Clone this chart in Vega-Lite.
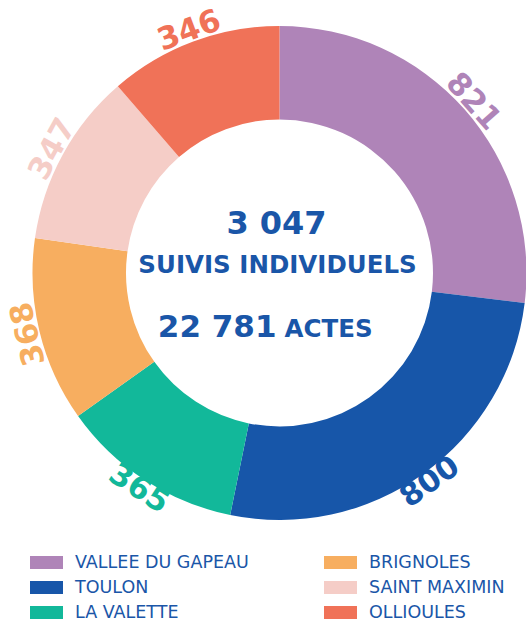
{
  "$schema": "https://vega.github.io/schema/vega-lite/v6.json",
  "width": 493,
  "height": 494,
  "autosize": {"type": "none"},
  "padding": {"left": 33, "top": 26, "right": 0, "bottom": 103},
  "background": "white",
  "config": {"view": {"stroke": null}},
  "datasets": {
    "sites": [
      {"site": "VALLEE DU GAPEAU", "n": 821},
      {"site": "TOULON", "n": 800},
      {"site": "LA VALETTE", "n": 365},
      {"site": "BRIGNOLES", "n": 368},
      {"site": "SAINT MAXIMIN", "n": 347},
      {"site": "OLLIOULES", "n": 346}
    ],
    "center": [
      {"key": "total", "t": "3 047"},
      {"key": "suivis", "t": "SUIVIS INDIVIDUELS"},
      {"key": "actesn", "t": "22 781"},
      {"key": "actes", "t": "ACTES"}
    ]
  },
  "layer": [
    {
      "data": {"name": "sites"},
      "transform": [
        {"window": [{"op": "row_number", "as": "idx"}]}
      ],
      "mark": {"type": "arc", "outerRadius": 247, "innerRadius": 153.5},
      "encoding": {
        "theta": {"field": "n", "type": "quantitative", "stack": true},
        "order": {"field": "idx", "type": "quantitative"},
        "color": {
          "field": "site",
          "type": "nominal",
          "scale": {
            "domain": ["VALLEE DU GAPEAU", "TOULON", "LA VALETTE", "BRIGNOLES", "SAINT MAXIMIN", "OLLIOULES"],
            "range": ["#AF84B8", "#1756A9", "#12B89A", "#F7AE60", "#F5CDC7", "#F07258"]
          },
          "legend": {
            "orient": "none",
            "legendX": -3,
            "legendY": 520,
            "columns": 2,
            "columnPadding": 75,
            "rowPadding": -8,
            "title": null,
            "values": ["VALLEE DU GAPEAU", "TOULON", "LA VALETTE", "BRIGNOLES", "SAINT MAXIMIN", "OLLIOULES"],
            "symbolType": "M-1,-0.4H1V0.4H-1Z",
            "symbolSize": 1089,
            "symbolStrokeWidth": 0,
            "symbolOpacity": 1,
            "labelFont": "DejaVu Sans",
            "labelFontSize": 17.5,
            "labelColor": "#1A56A8",
            "labelOffset": 12,
            "labelLimit": 300
          }
        }
      }
    },
    {
      "data": {"name": "sites"},
      "transform": [
        {"window": [{"op": "row_number", "as": "idx"}]},
        {"joinaggregate": [{"op": "sum", "field": "n", "as": "total"}]},
        {"window": [{"op": "sum", "field": "n", "as": "cum"}], "sort": [{"field": "idx"}], "frame": [null, 0]},
        {"calculate": "(datum.cum - datum.n / 2) / datum.total * 360", "as": "mid"},
        {"calculate": "datum.mid < 90 ? datum.mid : (datum.mid < 240 ? datum.mid - 180 : datum.mid - 360)", "as": "ang"}
      ],
      "mark": {"type": "text", "radius": 258, "font": "DejaVu Sans", "fontWeight": "bold", "fontSize": 31, "baseline": "middle", "align": "center"},
      "encoding": {
        "theta": {"field": "n", "type": "quantitative", "stack": true},
        "order": {"field": "idx", "type": "quantitative"},
        "text": {"field": "n", "type": "quantitative"},
        "angle": {"field": "ang", "type": "quantitative", "scale": null},
        "color": {"field": "site", "type": "nominal", "legend": null}
      }
    },
    {
      "data": {"name": "center"},
      "transform": [{"filter": "datum.key == 'total'"}],
      "mark": {"type": "text", "font": "DejaVu Sans", "fontWeight": "bold", "fontSize": 32, "color": "#1A56A8", "baseline": "alphabetic", "align": "center", "dx": -3, "dy": -39},
      "encoding": {"text": {"field": "t"}}
    },
    {
      "data": {"name": "center"},
      "transform": [{"filter": "datum.key == 'suivis'"}],
      "mark": {"type": "text", "font": "DejaVu Sans", "fontWeight": "bold", "fontSize": 24.5, "color": "#1A56A8", "baseline": "alphabetic", "align": "center", "dx": -2, "dy": 0},
      "encoding": {"text": {"field": "t"}}
    },
    {
      "data": {"name": "center"},
      "transform": [{"filter": "datum.key == 'actesn'"}],
      "mark": {"type": "text", "font": "DejaVu Sans", "fontWeight": "bold", "fontSize": 31, "color": "#1A56A8", "baseline": "alphabetic", "align": "right", "dx": -3, "dy": 64},
      "encoding": {"text": {"field": "t"}}
    },
    {
      "data": {"name": "center"},
      "transform": [{"filter": "datum.key == 'actes'"}],
      "mark": {"type": "text", "font": "DejaVu Sans", "fontWeight": "bold", "fontSize": 24.5, "color": "#1A56A8", "baseline": "alphabetic", "align": "left", "dx": 5, "dy": 64},
      "encoding": {"text": {"field": "t"}}
    }
  ]
}
